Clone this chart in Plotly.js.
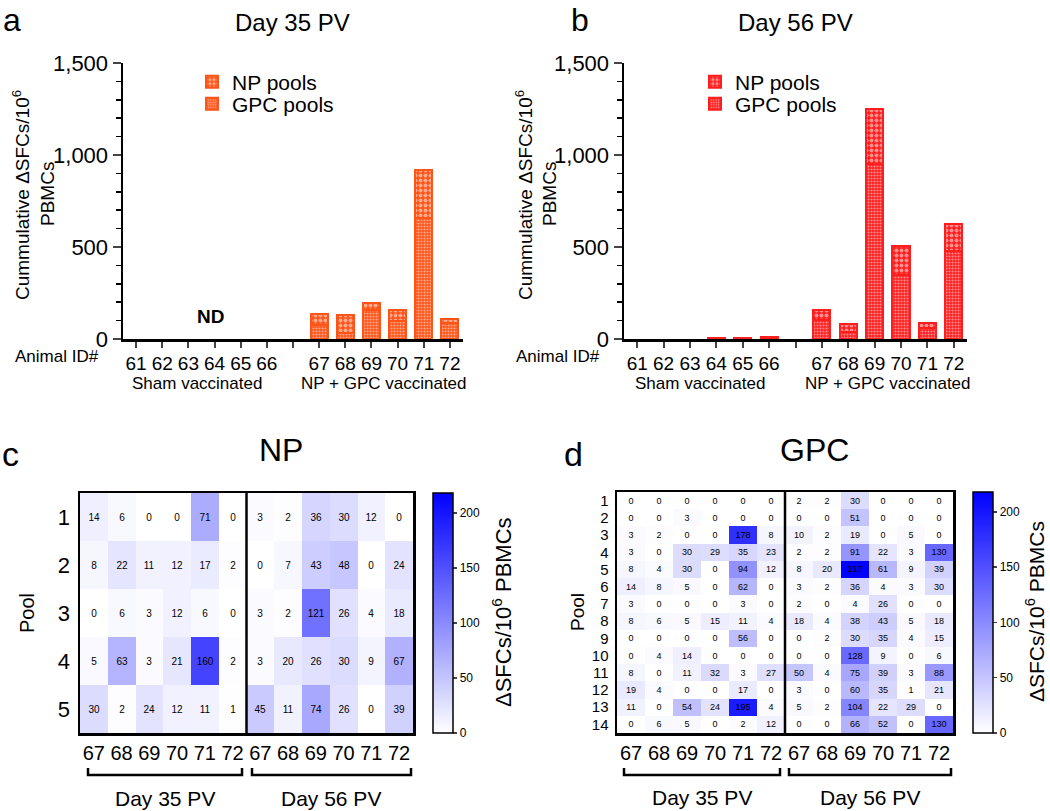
<!DOCTYPE html>
<html>
<head>
<meta charset="utf-8">
<script src="https://cdn.plot.ly/plotly-3.0.1.min.js"></script>
<style>
  body { margin: 0; background: white; }
  #chart { width: 1050px; height: 811px; }
</style>
</head>
<body>
<div id="chart"></div>
<script>
// bar panels (a, b): cumulative SFCs per animal, null = not detected
const animalIds = ['61', '62', '63', '64', '65', '66', '67', '68', '69', '70', '71', '72'];
const day35NP = [null, null, null, null, null, null, 57, 99, 41, 57, 265, 22];
const day35GPC = [null, null, null, null, null, null, 77, 34, 157, 100, 656, 88];
const day56NP = [null, null, null, null, null, null, 54, 42, 300, 160, 25, 148];
const day56GPC = [null, null, null, 8, 8, 12, 103, 40, 949, 348, 62, 477];

// heatmap panels (c, d)
const heatAnimals = ['67', '68', '69', '70', '71', '72'];
const npPools = [1, 2, 3, 4, 5];
const npDay35 = [
  [14, 6, 0, 0, 71, 0],
  [8, 22, 11, 12, 17, 2],
  [0, 6, 3, 12, 6, 0],
  [5, 63, 3, 21, 160, 2],
  [30, 2, 24, 12, 11, 1]
];
const npDay56 = [
  [3, 2, 36, 30, 12, 0],
  [0, 7, 43, 48, 0, 24],
  [3, 2, 121, 26, 4, 18],
  [3, 20, 26, 30, 9, 67],
  [45, 11, 74, 26, 0, 39]
];
const gpcPools = [1, 2, 3, 4, 5, 6, 7, 8, 9, 10, 11, 12, 13, 14];
const gpcDay35 = [
  [0, 0, 0, 0, 0, 0],
  [0, 0, 3, 0, 0, 0],
  [3, 2, 0, 0, 178, 8],
  [3, 0, 30, 29, 35, 23],
  [8, 4, 30, 0, 94, 12],
  [14, 8, 5, 0, 62, 0],
  [3, 0, 0, 0, 3, 0],
  [8, 6, 5, 15, 11, 4],
  [0, 0, 0, 0, 56, 0],
  [0, 4, 14, 0, 0, 0],
  [8, 0, 11, 32, 3, 27],
  [19, 4, 0, 0, 17, 0],
  [11, 0, 54, 24, 195, 4],
  [0, 6, 5, 0, 2, 12]
];
const gpcDay56 = [
  [2, 2, 30, 0, 0, 0],
  [0, 0, 51, 0, 0, 0],
  [10, 2, 19, 0, 5, 0],
  [2, 2, 91, 22, 3, 130],
  [8, 20, 217, 61, 9, 39],
  [3, 2, 36, 4, 3, 30],
  [2, 0, 4, 26, 0, 0],
  [18, 4, 38, 43, 5, 18],
  [0, 2, 30, 35, 4, 15],
  [0, 0, 128, 9, 0, 6],
  [50, 4, 75, 39, 3, 88],
  [3, 0, 60, 35, 1, 21],
  [5, 2, 104, 22, 29, 0],
  [0, 0, 66, 52, 0, 130]
];

const W = 1050, H = 811;
const FONT = 'Arial, "Liberation Sans", sans-serif';
const orange = '#ff5418';
const red = '#ff1e1e';

function px(x) { return x / W; }
function py(y) { return 1 - y / H; }

// sham animals take slots 0-5, a blank slot, then vaccinated animals
const slots = animalIds.map((id, i) => i < 6 ? i : i + 1);
const slotVals = [];
const slotText = [];
for (let s = 0; s <= 12; s++) {
  slotVals.push(s);
  const i = slots.indexOf(s);
  slotText.push(i >= 0 ? animalIds[i] : ' ');
}

function barTrace(name, values, color, big, xa, ya, leg) {
  return {
    type: 'bar', name: name, x: slots, y: values, xaxis: xa, yaxis: ya, legend: leg,
    width: 0.65, showlegend: true,
    marker: {
      color: color,
      line: { color: color, width: 2 },
      pattern: { shape: '.', fillmode: 'overlay', fgcolor: 'white', size: big ? 5 : 3, solidity: big ? 0.5 : 0.4 }
    },
    hoverinfo: 'y'
  };
}

const heatCols = heatAnimals.concat(heatAnimals).map((a, i) => i);
const heatText = heatAnimals.concat(heatAnimals);
const npZ = npDay35.map((row, r) => row.concat(npDay56[r]));
const gpcZ = gpcDay35.map((row, r) => row.concat(gpcDay56[r]));
const blues = [[0, '#ffffff'], [1, '#0000ff']];

function heatTrace(z, rows, xa, ya, fontSize, cb) {
  return {
    type: 'heatmap', z: z, x: heatCols, y: rows, xaxis: xa, yaxis: ya,
    colorscale: blues, zmin: 0, zmax: 218,
    texttemplate: '%{z}', textfont: { size: fontSize, color: 'black', family: FONT },
    colorbar: Object.assign({
      xanchor: 'left', yanchor: 'top', lenmode: 'fraction', xpad: 0, ypad: 0,
      outlinewidth: 1.5, outlinecolor: 'black',
      tickvals: [0, 50, 100, 150, 200], ticks: 'outside', ticklen: 4, tickwidth: 1.5,
      tickfont: { size: 12, family: FONT, color: 'black' }
    }, cb)
  };
}

// one legend box per entry so the two rows sit as close as in the reference
const data = [
  barTrace('GPC pools', day35GPC, orange, false, 'x', 'y', 'legend3'),
  barTrace('NP pools', day35NP, orange, true, 'x', 'y', 'legend'),
  barTrace('GPC pools', day56GPC, red, false, 'x2', 'y2', 'legend4'),
  barTrace('NP pools', day56NP, red, true, 'x2', 'y2', 'legend2'),
  heatTrace(npZ, npPools, 'x3', 'y3', 10, { x: px(433), y: py(493), len: 240 / H, thickness: 20 }),
  heatTrace(gpcZ, gpcPools, 'x4', 'y4', 9, { x: px(973), y: py(492), len: 241 / H, thickness: 20 })
];

function barX(domain) {
  return {
    domain: domain, range: [-0.5, 12.5], tickvals: slotVals, ticktext: slotText,
    showline: true, linewidth: 2.5, linecolor: 'black', ticks: 'outside', ticklen: 6, tickwidth: 2,
    tickfont: { size: 19, family: FONT, color: 'black' }, showgrid: false, zeroline: false, fixedrange: true
  };
}
function barY(domain) {
  return {
    domain: domain, range: [0, 1500], tickvals: [0, 500, 1000, 1500], tickformat: ',d',
    showline: true, linewidth: 2.5, linecolor: 'black', ticks: 'outside', ticklen: 8, tickwidth: 2,
    minor: { dtick: 100, ticks: 'outside', ticklen: 5, tickwidth: 1.5, tickcolor: 'black', showgrid: false },
    tickfont: { size: 22, family: FONT, color: 'black' }, showgrid: false, zeroline: false
  };
}
function heatX(domain, anchor) {
  return {
    domain: domain, anchor: anchor, range: [-0.5, 11.5], tickvals: heatCols, ticktext: heatText,
    showline: true, mirror: true, linewidth: 2.5, linecolor: 'black', ticks: '',
    ticklabelstandoff: 0, tickfont: { size: 20, family: FONT, color: 'black' },
    showgrid: false, zeroline: false
  };
}
function heatY(domain, anchor, rows, fontSize) {
  return {
    domain: domain, anchor: anchor, range: [rows.length + 0.5, 0.5], tickvals: rows,
    showline: true, mirror: true, linewidth: 2.5, linecolor: 'black', ticks: '',
    ticklabelstandoff: 3, tickfont: { size: fontSize, family: FONT, color: 'black' },
    showgrid: false, zeroline: false
  };
}

const txt = (text, x, y, size, extra) => Object.assign({
  text: text, x: px(x), y: py(y), xref: 'paper', yref: 'paper', showarrow: false,
  font: { size: size, family: FONT, color: 'black' }, xanchor: 'center', yanchor: 'middle'
}, extra || {});

const cbTitle = 'ΔSFCs/10<sup>6</sup> PBMCs';
const yTitle1 = 'Cummulative ΔSFCs/10<sup>6</sup>';
const yTitle2 = 'PBMCs';

const annotations = [
  txt('a', 12, 0, 32, { yanchor: 'top' }),
  txt('b', 580, 0, 32, { yanchor: 'top' }),
  txt('c', 10, 454, 34),
  txt('d', 573, 454, 34),
  txt('Day 35 PV', 292, 23, 24),
  txt('Day 56 PV', 795, 23, 24),
  txt(yTitle1, 21, 195, 19, { textangle: -90 }),
  txt(yTitle2, 48, 194, 19, { textangle: -90 }),
  txt(yTitle1, 524, 195, 19, { textangle: -90 }),
  txt(yTitle2, 550, 194, 19, { textangle: -90 }),
  txt('ND', 210, 316, 19, { font: { size: 19, family: FONT, color: 'black', weight: 'bold' } }),
  txt('Animal ID#', 101, 356, 17, { xanchor: 'right' }),
  txt('Animal ID#', 602, 356, 17, { xanchor: 'right' }),
  txt('Sham vaccinated', 197, 383, 17),
  txt('NP + GPC vaccinated', 384, 383, 17),
  txt('Sham vaccinated', 700, 383, 17),
  txt('NP + GPC vaccinated', 888, 383, 17),
  txt('NP', 281, 450, 32),
  txt('GPC', 814, 450, 32),
  txt('Pool', 27, 613, 20, { textangle: -90 }),
  txt('Pool', 577, 612, 19, { textangle: -90 }),
  txt(cbTitle, 502, 612, 22, { textangle: -90 }),
  txt(cbTitle, 1035, 612, 21, { textangle: -90 }),
  txt('Day 35 PV', 165, 798, 21),
  txt('Day 56 PV', 331, 798, 21),
  txt('Day 35 PV', 702, 797, 21),
  txt('Day 56 PV', 870, 797, 21)
];

function bracket(x0, x1, y) {
  return {
    type: 'path', xref: 'paper', yref: 'paper',
    path: 'M ' + px(x0) + ',' + py(y - 7) + ' L ' + px(x0) + ',' + py(y) +
      ' L ' + px(x1) + ',' + py(y) + ' L ' + px(x1) + ',' + py(y - 7),
    line: { color: 'black', width: 2.5 }
  };
}
function divider(xa, ya) {
  return {
    type: 'line', xref: xa, yref: ya + ' domain', x0: 5.5, x1: 5.5, y0: 0, y1: 1,
    line: { color: 'black', width: 2.5 }
  };
}

const shapes = [
  divider('x3', 'y3'),
  divider('x4', 'y4'),
  bracket(88, 242, 775),
  bracket(252, 411, 775),
  bracket(624, 780, 775),
  bracket(789, 951, 775)
];

const legendBase = {
  visible: true, xanchor: 'left', yanchor: 'middle', bgcolor: 'rgba(0,0,0,0)',
  font: { size: 21, family: FONT, color: 'black' }, itemwidth: 30
};

const layout = {
  width: W, height: H,
  margin: { l: 0, r: 0, t: 0, b: 0 },
  paper_bgcolor: 'white', plot_bgcolor: 'white',
  font: { family: FONT, color: 'black' },
  showlegend: true,
  barmode: 'stack', bargap: 0.35,
  xaxis: Object.assign(barX([px(123), px(463)]), { anchor: 'y' }),
  yaxis: Object.assign(barY([py(339), py(63)]), { anchor: 'x' }),
  xaxis2: Object.assign(barX([px(624), px(967)]), { anchor: 'y2' }),
  yaxis2: Object.assign(barY([py(339), py(63)]), { anchor: 'x2' }),
  xaxis3: heatX([px(80), px(413)], 'y3'),
  yaxis3: heatY([py(733), py(493)], 'x3', npPools, 22),
  xaxis4: heatX([px(617), px(953)], 'y4'),
  yaxis4: heatY([py(733), py(492)], 'x4', gpcPools, 15),
  legend: Object.assign({ x: px(192), y: py(82) }, legendBase),
  legend3: Object.assign({ x: px(192), y: py(104) }, legendBase),
  legend2: Object.assign({ x: px(695), y: py(82) }, legendBase),
  legend4: Object.assign({ x: px(695), y: py(104) }, legendBase),
  annotations: annotations,
  shapes: shapes
};

Plotly.newPlot('chart', data, layout, { displayModeBar: false, staticPlot: true });
</script>
</body>
</html>
